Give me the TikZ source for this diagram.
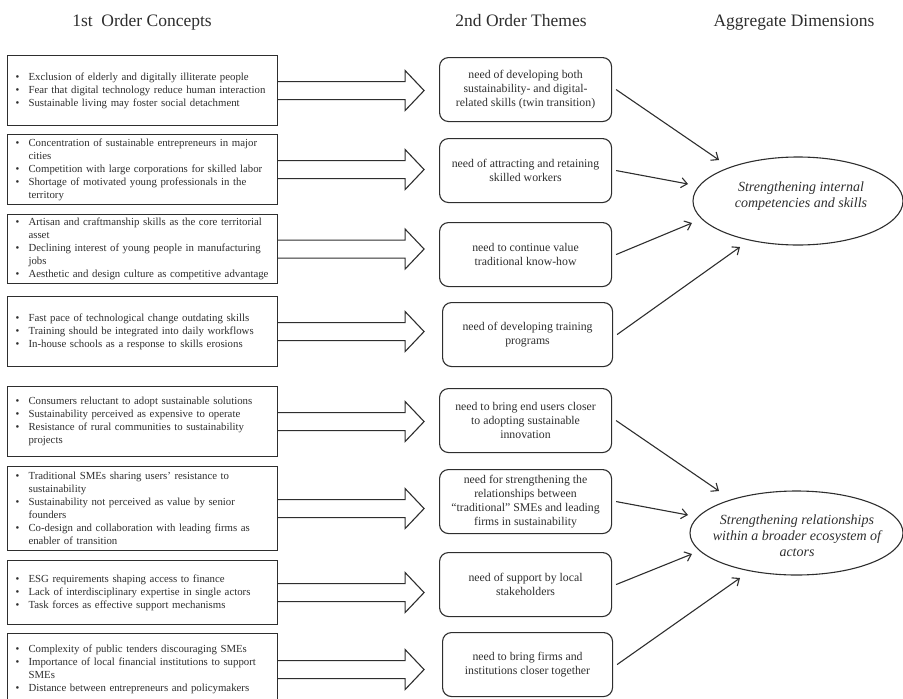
\documentclass[tikz,border=0pt]{standalone}
\usepackage{fontspec}
\setmainfont{Liberation Serif}
\usetikzlibrary{arrows.meta,shapes.geometric}
\definecolor{ink}{HTML}{2E2E2E}
\newcommand\bl[1]{\mbox{\makebox[13pt][l]{\textbullet}#1}}
\newcommand\cl[1]{\mbox{\hspace*{13pt}#1}}
\newcommand\blockarr[1]{\draw[blockarrow] ([yshift=9pt]#1.east) -- ++(127,0) -- ++(0,-11) -- ++(19,20) -- ++(-19,20) -- ++(0,-11) -- ++(-127,0);}
\begin{document}
\begin{tikzpicture}[x=1pt,y=-1pt,
  concept/.style={draw=ink, line width=1.1pt, text=ink, font=\fontsize{10.8}{13}\selectfont,
    text width=254pt, align=left, inner xsep=8pt, inner ysep=2pt, anchor=north west},
  theme/.style={draw=ink, line width=1.1pt, rounded corners=9pt, text=ink,
    font=\fontsize{11.8}{14}\selectfont, align=center, anchor=north west,
    minimum width=172pt, minimum height=64pt, inner sep=2pt},
  dimension/.style={draw=ink, line width=1.1pt, ellipse, inner sep=0pt},
  dimtext/.style={text=ink, font=\fontsize{14}{16}\selectfont\itshape, align=center},
  heading/.style={text=ink, font=\fontsize{17.5}{20}\selectfont, anchor=base},
  blockarrow/.style={draw=ink, line width=1.1pt, line join=miter},
  link/.style={draw=ink, line width=1.1pt, -{Straight Barb[length=6pt,width=10pt]}}]
\useasboundingbox (0,0) rectangle (903,699);

% headings
\node[heading] (h1) at (142,26) {1st\ \ Order Concepts};
\node[heading] (h2) at (521,26) {2nd Order Themes};
\node[heading] (h3) at (794,26) {Aggregate Dimensions};

% first order concepts
\node[concept, minimum height=70pt] (L1) at (7,55) {%
\bl{Exclusion of elderly and digitally illiterate people}\\
\bl{Fear that digital technology reduce human interaction}\\
\bl{Sustainable living may foster social detachment}};
\node[concept, minimum height=70pt] (L2) at (7,134) {%
\bl{Concentration of sustainable entrepreneurs in major}\\
\cl{cities}\\
\bl{Competition with large corporations for skilled labor}\\
\bl{Shortage of motivated young professionals in the}\\
\cl{territory}};
\node[concept, minimum height=69pt] (L3) at (7,214) {%
\bl{Artisan and craftmanship skills as the core territorial}\\
\cl{asset}\\
\bl{Declining interest of young people in manufacturing}\\
\cl{jobs}\\
\bl{Aesthetic and design culture as competitive advantage}};
\node[concept, minimum height=70pt] (L4) at (7,296) {%
\bl{Fast pace of technological change outdating skills}\\
\bl{Training should be integrated into daily workflows}\\
\bl{In-house schools as a response to skills erosions}};
\node[concept, minimum height=70pt] (L5) at (7,386) {%
\bl{Consumers reluctant to adopt sustainable solutions}\\
\bl{Sustainability perceived as expensive to operate}\\
\bl{Resistance of rural communities to sustainability}\\
\cl{projects}};
\node[concept, minimum height=84pt] (L6) at (7,466) {%
\bl{Traditional SMEs sharing users’ resistance to}\\
\cl{sustainability}\\
\bl{Sustainability not perceived as value by senior}\\
\cl{founders}\\
\bl{Co-design and collaboration with leading firms as}\\
\cl{enabler of transition}};
\node[concept, minimum height=64pt] (L7) at (7,560) {%
\bl{ESG requirements shaping access to finance}\\
\bl{Lack of interdisciplinary expertise in single actors}\\
\bl{Task forces as effective support mechanisms}};
\node[concept, minimum height=72pt] (L8) at (7,633) {%
\bl{Complexity of public tenders discouraging SMEs}\\
\bl{Importance of local financial institutions to support}\\
\cl{SMEs}\\
\bl{Distance between entrepreneurs and policymakers}};

% block arrows
\blockarr{L1}
\blockarr{L2}
\blockarr{L3}
\blockarr{L4}
\blockarr{L5}
\blockarr{L6}
\blockarr{L7}
\blockarr{L8}

% second order themes
\node[theme] (A) at (439,57) {need of developing both\\ sustainability- and digital-\\ related skills (twin transition)};
\node[theme] (B) at (439,138) {need of attracting and retaining\\ skilled workers};
\node[theme] (C) at (439,222) {need to continue value\\ traditional know-how};
\node[theme, minimum width=170pt] (D) at (442,302) {need of developing training\\ programs};
\node[theme] (E) at (439,388) {need to bring end users closer\\ to adopting sustainable\\ innovation};
\node[theme] (F) at (439,469) {need for strengthening the\\ relationships between\\ “traditional” SMEs and leading\\ firms in sustainability};
\node[theme] (G) at (439,552) {need of support by local\\ stakeholders};
\node[theme, minimum width=170pt] (H) at (442,632) {need to bring firms and\\ institutions closer together};

% aggregate dimensions
\node[dimension, minimum width=210pt, minimum height=88pt] (E1) at (798,201) {};
\node[dimtext] (E1t) at (801,196) {Strengthening internal\\ competencies and skills};
\node[dimension, minimum width=213pt, minimum height=84pt] (E2) at (796.5,533) {};
\node[dimtext] (E2t) at (797,536) {Strengthening relationships\\ within a broader ecosystem of\\ actors};

% arrow targets
\coordinate (t1) at (719,160);
\coordinate (t2) at (688,184);
\coordinate (t3) at (692,223);
\coordinate (t4) at (740,247);
\coordinate (u1) at (719,491);
\coordinate (u2) at (688,515);
\coordinate (u3) at (692,554);
\coordinate (u4) at (740,578);

\draw[link] ([xshift=4pt]A.east) -- (t1);
\draw[link] ([xshift=4pt]B.east) -- (t2);
\draw[link] ([xshift=4pt]C.east) -- (t3);
\draw[link] ([xshift=4pt]D.east) -- (t4);
\draw[link] ([xshift=4pt]E.east) -- (u1);
\draw[link] ([xshift=4pt]F.east) -- (u2);
\draw[link] ([xshift=4pt]G.east) -- (u3);
\draw[link] ([xshift=4pt]H.east) -- (u4);
\end{tikzpicture}
\end{document}
